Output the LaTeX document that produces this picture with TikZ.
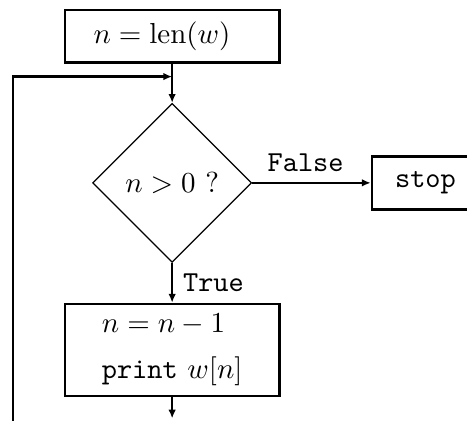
\documentclass[tikz,border=0pt]{standalone}
\usetikzlibrary{shapes.geometric, arrows.meta, positioning}

\begin{document}
\begin{tikzpicture}[
  box/.style={draw, line width=0.9pt, minimum width=2.6cm, minimum height=0.64cm},
  test/.style={draw, diamond, line width=0.4pt, minimum width=1.93cm, minimum height=1.93cm, inner sep=0pt},
  flow/.style={line width=0.9pt, -{Latex[length=3pt,width=2.6pt]}}]
\useasboundingbox (-2.09,-2.89) rectangle (3.58,2.22);
\clip (-2.09,-2.89) rectangle (3.58,2.22);

% Start
\node[box] (init) at (0,1.78) {$n = \mathrm{len}(w)$\hspace*{7pt}};
\coordinate (join) at (0,1.29);

% Test
\node[test] (test) at (0,0) {$n > 0$ ?};
\draw[flow] (init) -- (test);

% False branch
\node[box, minimum width=1.3cm, anchor=west] (stop) at (2.41,0) {\texttt{stop}};
\draw[flow] (test) -- node[above, xshift=-2pt] {\texttt{False}} (stop);

% True branch
\node[box, minimum height=1.12cm, align=left] (body) at (0,-2.03) {$n = n-1$\\[4pt]\texttt{print} $w[n]$};
\draw[flow] (test) -- node[right] {\texttt{True}} (body);

% Loop back
\coordinate (out) at (0,-2.86);
\coordinate (back) at (-1.93,-3.2);
\draw[flow] (body) -- (out);
\draw[flow] (back) |- (join);
\end{tikzpicture}
\end{document}
